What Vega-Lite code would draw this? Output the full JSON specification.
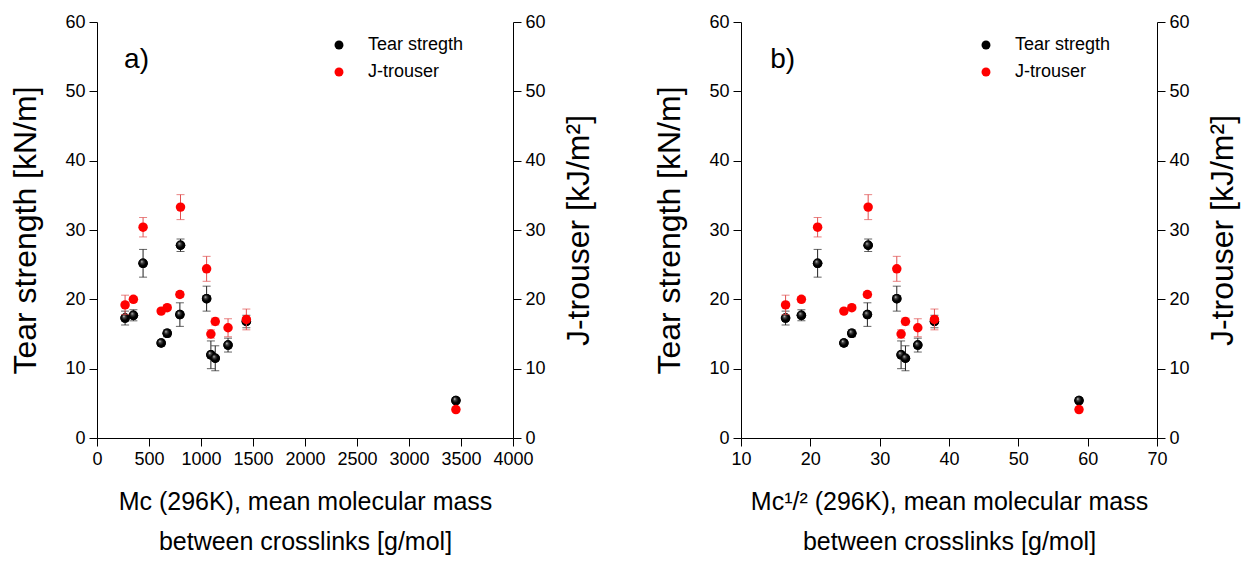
{
  "$schema": "https://vega.github.io/schema/vega-lite/v6.json",
  "background": "white",
  "padding": {"left": 9, "top": 13, "right": 5, "bottom": 5},
  "data": {"values": [
    {"mc": 270, "sq": 16.43, "tear": 17.3, "tearErr": 1.0, "jt": 19.2, "jtErr": 1.4},
    {"mc": 350, "sq": 18.71, "tear": 17.7, "tearErr": 0.8, "jt": 20.0, "jtErr": 0.4},
    {"mc": 443, "sq": 21.05, "tear": 25.2, "tearErr": 2.0, "jt": 30.4, "jtErr": 1.4},
    {"mc": 617, "sq": 24.84, "tear": 13.7, "tearErr": 0.4, "jt": 18.3, "jtErr": 0.3},
    {"mc": 675, "sq": 25.98, "tear": 15.1, "tearErr": 0.5, "jt": 18.8, "jtErr": 0.3},
    {"mc": 797, "sq": 28.23, "tear": 17.8, "tearErr": 1.7, "jt": 20.7, "jtErr": 0.4},
    {"mc": 803, "sq": 28.34, "tear": 27.8, "tearErr": 0.9, "jt": 33.3, "jtErr": 1.8},
    {"mc": 1054, "sq": 32.47, "tear": 20.1, "tearErr": 1.8, "jt": 24.4, "jtErr": 1.8},
    {"mc": 1095, "sq": 33.09, "tear": 12.0, "tearErr": 2.0, "jt": 15.0, "jtErr": 0.6},
    {"mc": 1137, "sq": 33.72, "tear": 11.5, "tearErr": 1.8, "jt": 16.8, "jtErr": 0.5},
    {"mc": 1260, "sq": 35.5, "tear": 13.4, "tearErr": 1.0, "jt": 15.9, "jtErr": 1.3},
    {"mc": 1436, "sq": 37.9, "tear": 16.8, "tearErr": 0.9, "jt": 17.1, "jtErr": 1.5},
    {"mc": 3451, "sq": 58.75, "tear": 5.4, "tearErr": 0.3, "jt": 4.1, "jtErr": 0.3}
  ]},
  "spacing": 58,
  "hconcat": [
    {
      "width": 416, "height": 416,
      "layer": [
        {
          "layer": [
            {"mark": {"type": "errorbar", "color": "#222222", "ticks": {"size": 8, "thickness": 1}, "rule": {"strokeWidth": 1}},
             "encoding": {
               "x": {"field": "mc", "type": "quantitative", "scale": {"domain": [0, 4000], "nice": false}, "axis": {"values": [0,500,1000,1500,2000,2500,3000,3500,4000], "format": "d", "labelOverlap": false, "labelFlush": false, "titlePadding": 21, "title": ["Mc (296K), mean molecular mass", "between crosslinks [g/mol]"]}},
               "y": {"field": "tear", "type": "quantitative", "scale": {"domain": [0, 60], "nice": false}, "axis": {"values": [0,10,20,30,40,50,60], "title": "Tear strength [kN/m]", "orient": "left", "titleFontSize": 32, "titlePadding": 22}},
               "yError": {"field": "tearErr"}}},
            {"mark": {"type": "point", "filled": true, "size": 90, "opacity": 1},
             "encoding": {
               "x": {"field": "mc", "type": "quantitative"},
               "y": {"field": "tear", "type": "quantitative", "axis": {"values": [0,10,20,30,40,50,60], "title": "Tear strength [kN/m]", "orient": "left", "titleFontSize": 32, "titlePadding": 22}},
               "color": {"datum": "Tear stregth", "type": "nominal", "scale": {"domain": ["Tear stregth", "J-trouser"], "range": ["#000000", "#ff0000"]},
                 "legend": {"title": null, "orient": "none", "legendX": 233, "legendY": 14, "labelFontSize": 18, "labelFont": "Liberation Sans", "labelColor": "black", "symbolSize": 80, "symbolType": "circle", "rowPadding": 9, "labelOffset": 20, "symbolStrokeWidth": 0}}}},
            {"mark": {"type": "point", "filled": true, "size": 90, "opacity": 1,
               "fill": {"gradient": "radial", "x1": 0.35, "y1": 0.3, "r1": 0, "x2": 0.5, "y2": 0.5, "r2": 0.55,
                 "stops": [{"offset": 0, "color": "#e8e8e8"}, {"offset": 0.25, "color": "#454545"}, {"offset": 0.6, "color": "#000000"}, {"offset": 1, "color": "#000000"}]}},
             "encoding": {
               "x": {"field": "mc", "type": "quantitative"},
               "y": {"field": "tear", "type": "quantitative", "axis": {"values": [0,10,20,30,40,50,60], "title": "Tear strength [kN/m]", "orient": "left", "titleFontSize": 32, "titlePadding": 22}}}},
            {"data": {"values": [{"label": "a)", "px": 380, "py": 54.5}]},
             "mark": {"type": "text", "fontSize": 28, "fontWeight": "normal", "font": "Liberation Sans", "align": "center", "baseline": "middle", "color": "black"},
             "encoding": {"x": {"field": "px", "type": "quantitative"}, "y": {"field": "py", "type": "quantitative"}, "text": {"field": "label"}}}
          ]
        },
        {
          "layer": [
            {"mark": {"type": "errorbar", "color": "#e05050", "ticks": {"size": 8, "thickness": 1}, "rule": {"strokeWidth": 1}},
             "encoding": {
               "x": {"field": "mc", "type": "quantitative"},
               "y": {"field": "jt", "type": "quantitative", "scale": {"domain": [0, 60], "nice": false}, "axis": {"values": [0,10,20,30,40,50,60], "title": "J-trouser [kJ/m²]", "orient": "right", "titleAngle": -90, "titleBaseline": "top", "titleFontSize": 32, "titlePadding": 18}},
               "yError": {"field": "jtErr"}}},
            {"mark": {"type": "point", "filled": true, "size": 90, "opacity": 1},
             "encoding": {
               "x": {"field": "mc", "type": "quantitative"},
               "y": {"field": "jt", "type": "quantitative", "axis": {"values": [0,10,20,30,40,50,60], "title": "J-trouser [kJ/m²]", "orient": "right", "titleAngle": -90, "titleBaseline": "top", "titleFontSize": 32, "titlePadding": 18}},
               "color": {"datum": "J-trouser", "type": "nominal"}}}
          ]
        }
      ],
      "resolve": {"scale": {"y": "independent"}}
    },
    {
      "width": 416, "height": 416,
      "layer": [
        {
          "layer": [
            {"mark": {"type": "errorbar", "color": "#222222", "ticks": {"size": 8, "thickness": 1}, "rule": {"strokeWidth": 1}},
             "encoding": {
               "x": {"field": "sq", "type": "quantitative", "scale": {"domain": [10, 70], "nice": false, "zero": false}, "axis": {"values": [10,20,30,40,50,60,70], "format": "d", "labelOverlap": false, "labelFlush": false, "titlePadding": 21, "title": ["Mc¹/² (296K), mean molecular mass", "between crosslinks [g/mol]"]}},
               "y": {"field": "tear", "type": "quantitative", "scale": {"domain": [0, 60], "nice": false}, "axis": {"values": [0,10,20,30,40,50,60], "title": "Tear strength [kN/m]", "orient": "left", "titleFontSize": 32, "titlePadding": 22}},
               "yError": {"field": "tearErr"}}},
            {"mark": {"type": "point", "filled": true, "size": 90, "opacity": 1},
             "encoding": {
               "x": {"field": "sq", "type": "quantitative"},
               "y": {"field": "tear", "type": "quantitative", "axis": {"values": [0,10,20,30,40,50,60], "title": "Tear strength [kN/m]", "orient": "left", "titleFontSize": 32, "titlePadding": 22}},
               "color": {"datum": "Tear stregth", "type": "nominal", "scale": {"domain": ["Tear stregth", "J-trouser"], "range": ["#000000", "#ff0000"]},
                 "legend": {"title": null, "orient": "none", "legendX": 236, "legendY": 14, "labelFontSize": 18, "labelFont": "Liberation Sans", "labelColor": "black", "symbolSize": 80, "symbolType": "circle", "rowPadding": 9, "labelOffset": 20, "symbolStrokeWidth": 0}}}},
            {"mark": {"type": "point", "filled": true, "size": 90, "opacity": 1,
               "fill": {"gradient": "radial", "x1": 0.35, "y1": 0.3, "r1": 0, "x2": 0.5, "y2": 0.5, "r2": 0.55,
                 "stops": [{"offset": 0, "color": "#e8e8e8"}, {"offset": 0.25, "color": "#454545"}, {"offset": 0.6, "color": "#000000"}, {"offset": 1, "color": "#000000"}]}},
             "encoding": {
               "x": {"field": "sq", "type": "quantitative"},
               "y": {"field": "tear", "type": "quantitative", "axis": {"values": [0,10,20,30,40,50,60], "title": "Tear strength [kN/m]", "orient": "left", "titleFontSize": 32, "titlePadding": 22}}}},
            {"data": {"values": [{"label": "b)", "px": 16, "py": 54.5}]},
             "mark": {"type": "text", "fontSize": 28, "fontWeight": "normal", "font": "Liberation Sans", "align": "center", "baseline": "middle", "color": "black"},
             "encoding": {"x": {"field": "px", "type": "quantitative"}, "y": {"field": "py", "type": "quantitative"}, "text": {"field": "label"}}}
          ]
        },
        {
          "layer": [
            {"mark": {"type": "errorbar", "color": "#e05050", "ticks": {"size": 8, "thickness": 1}, "rule": {"strokeWidth": 1}},
             "encoding": {
               "x": {"field": "sq", "type": "quantitative"},
               "y": {"field": "jt", "type": "quantitative", "scale": {"domain": [0, 60], "nice": false}, "axis": {"values": [0,10,20,30,40,50,60], "title": "J-trouser [kJ/m²]", "orient": "right", "titleAngle": -90, "titleBaseline": "top", "titleFontSize": 32, "titlePadding": 18}},
               "yError": {"field": "jtErr"}}},
            {"mark": {"type": "point", "filled": true, "size": 90, "opacity": 1},
             "encoding": {
               "x": {"field": "sq", "type": "quantitative"},
               "y": {"field": "jt", "type": "quantitative", "axis": {"values": [0,10,20,30,40,50,60], "title": "J-trouser [kJ/m²]", "orient": "right", "titleAngle": -90, "titleBaseline": "top", "titleFontSize": 32, "titlePadding": 18}},
               "color": {"datum": "J-trouser", "type": "nominal"}}}
          ]
        }
      ],
      "resolve": {"scale": {"y": "independent"}}
    }
  ],
  "resolve": {"scale": {"color": "independent"}, "legend": {"color": "independent"}},
  "config": {
    "view": {"stroke": null},
    "font": "Liberation Sans",
    "axis": {"grid": false, "labelFont": "Liberation Sans", "titleFont": "Liberation Sans", "labelFontSize": 18, "titleFontSize": 25, "titleFontWeight": "normal", "labelColor": "black", "titleColor": "black", "domainColor": "black", "tickColor": "black", "tickSize": 8, "labelPadding": 4, "titlePadding": 18, "titleLineHeight": 40}
  }
}
